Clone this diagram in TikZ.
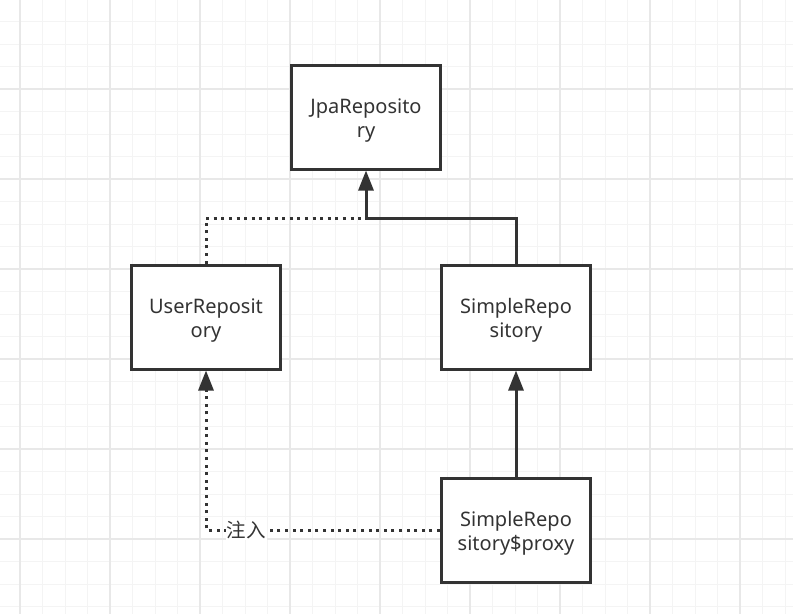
\documentclass[tikz,border=0pt]{standalone}
\usepackage{fontspec}
\setmainfont{Noto Sans}
\newfontfamily\cjkfont{Noto Sans CJK SC}
\usetikzlibrary{arrows.meta}
\definecolor{ink}{HTML}{333333}
\definecolor{gridminor}{HTML}{F4F4F4}
\definecolor{gridmajor}{HTML}{E8E8E8}
\newcommand\lowstrut{\rule{0pt}{21pt}}
\tikzset{
  box/.style={draw=ink, line width=3pt, fill=white, minimum width=149pt, minimum height=104pt,
    align=center, text=ink, font=\fontsize{20}{24}\selectfont, inner sep=0pt},
  conn/.style={draw=ink, line width=3pt},
  dotline/.style={conn, dash pattern=on 3pt off 4.6pt},
  tip/.style={-{Triangle[length=20pt,width=15pt]}},
  lbl/.style={fill=white, text=ink, font=\cjkfont\fontsize{19.5}{22}\selectfont, inner sep=1pt}
}
\begin{document}
\begin{tikzpicture}[x=1pt,y=-1pt]
\useasboundingbox (0,0) rectangle (793,614);
\fill[white] (0,0) rectangle (793,614);
% grid
\foreach \k in {0,...,34} {
  \pgfmathsetmacro{\gx}{20+22.5*\k}
  \draw[gridminor, line width=1pt] (\gx,0) -- (\gx,614);
}
\foreach \k in {1,...,27} {
  \pgfmathsetmacro{\gy}{-1+22.5*\k}
  \draw[gridminor, line width=1pt] (0,\gy) -- (793,\gy);
}
\foreach \gx in {20,110,...,740} \draw[gridmajor, line width=1.2pt] (\gx,0) -- (\gx,614);
\foreach \gy in {89,179,...,539} \draw[gridmajor, line width=1.2pt] (0,\gy) -- (793,\gy);

% nodes
\node[box] (jpa) at (366,117) {\lowstrut JpaReposito\\ry};
\node[box] (user) at (206,317) {\lowstrut UserReposit\\ory};
\node[box] (simple) at (516,317) {\lowstrut SimpleRepo\\sitory};
\node[box] (proxy) at (516,530) {\lowstrut SimpleRepo\\sitory\$proxy};
\coordinate (join) at (366,218);
\coordinate (corner) at (206,530);

% connectors
\draw[dotline] (user.north) |- (join);
\draw[conn, tip] (simple.north) |- (join) -- (jpa.south);
\draw[conn, tip] (proxy.north) -- (simple.south);
\draw[dotline, tip] (proxy.west) -- (corner) -- (user.south);
\node[lbl] (inject) at (246,530) {注入};
\end{tikzpicture}
\end{document}
